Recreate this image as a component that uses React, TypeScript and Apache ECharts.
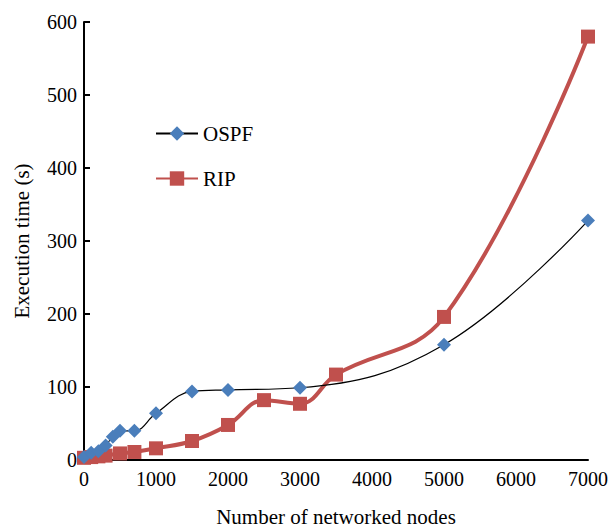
import React, { useEffect, useRef } from "react";
import * as echarts from "echarts";

const xTicks = [0, 1000, 2000, 3000, 4000, 5000, 6000, 7000];
const yTicks = [0, 100, 200, 300, 400, 500, 600];

const ospfX = [0, 100, 200, 300, 400, 500, 700, 1000, 1500, 2000, 3000, 5000, 7000];
const ospfY = [4, 10, 12, 20, 32, 40, 40, 64, 94, 96, 99, 158, 328];

const ripX = [0, 100, 200, 300, 500, 700, 1000, 1500, 2000, 2500, 3000, 3500, 5000, 7000];
const ripY = [3, 4, 5, 6, 9, 11, 16, 26, 48, 82, 77, 117, 196, 580];

const FONT = "Liberation Serif";

export default function App() {
  const ref = useRef<HTMLDivElement>(null);
  useEffect(() => {
    if (!ref.current) return;
    const chart = echarts.init(ref.current, null, { renderer: "svg" });
    chart.setOption({
      animation: false,
      textStyle: { fontFamily: FONT },
      grid: { left: 84, right: 22, top: 22, bottom: 65 },
      legend: {
        orient: "vertical",
        left: 150,
        top: 118,
        itemGap: 24,
        itemWidth: 42,
        itemHeight: 18,
        textStyle: { fontFamily: FONT, fontSize: 21, color: "#000" },
        data: ["OSPF", "RIP"],
      },
      xAxis: {
        type: "value",
        min: xTicks[0],
        max: xTicks[xTicks.length - 1],
        interval: 1000,
        name: "Number of networked nodes",
        nameLocation: "middle",
        nameGap: 46,
        nameTextStyle: { fontFamily: FONT, fontSize: 21, color: "#000" },
        axisLine: { lineStyle: { color: "#000", width: 2 } },
        axisTick: { show: false },
        axisLabel: {
          fontFamily: FONT,
          fontSize: 20,
          color: "#000",
          margin: 9,
          formatter: (v: number) => String(v),
        },
        splitLine: { show: false },
      },
      yAxis: {
        type: "value",
        min: yTicks[0],
        max: yTicks[yTicks.length - 1],
        interval: 100,
        name: "Execution time (s)",
        nameLocation: "middle",
        nameGap: 52,
        nameTextStyle: { fontFamily: FONT, fontSize: 21, color: "#000" },
        axisLine: { show: true, lineStyle: { color: "#000", width: 2 } },
        axisTick: { show: true, inside: true, length: 6, lineStyle: { color: "#000", width: 2 } },
        axisLabel: { fontFamily: FONT, fontSize: 20, color: "#000", margin: 7 },
        splitLine: { show: false },
      },
      series: [
        {
          name: "OSPF",
          type: "line",
          smooth: 0.4,
          data: ospfX.map((x, i) => [x, ospfY[i]]),
          symbol: "diamond",
          symbolSize: 14,
          lineStyle: { color: "#000", width: 1.2 },
          itemStyle: { color: "#4a7ebb" },
          z: 3,
        },
        {
          name: "RIP",
          type: "line",
          smooth: 0.4,
          data: ripX.map((x, i) => [x, ripY[i]]),
          symbol: "rect",
          symbolSize: 14,
          lineStyle: { color: "#c0504d", width: 4 },
          itemStyle: { color: "#c0504d" },
          z: 2,
        },
      ],
    });
    return () => chart.dispose();
  }, []);
  return (
    <div
      ref={ref}
      style={{ position: "absolute", left: 0, top: 0, width: 611, height: 532 }}
    />
  );
}
